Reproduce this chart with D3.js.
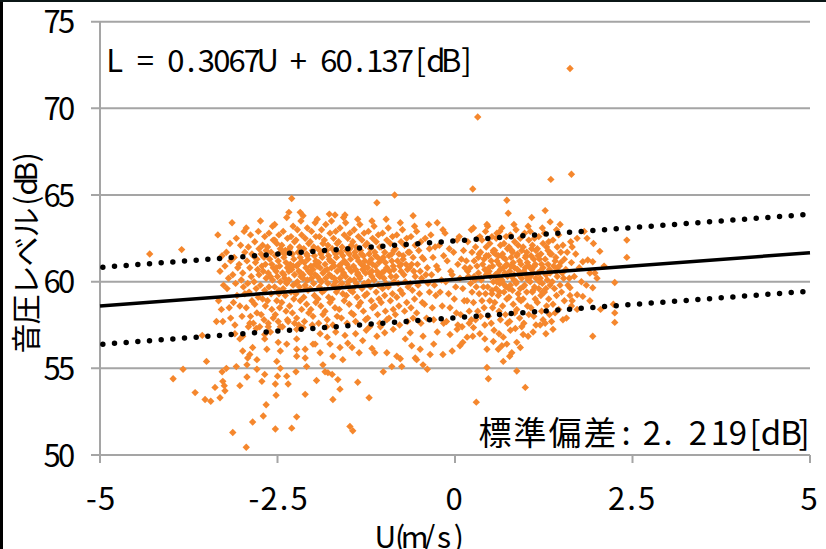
<!DOCTYPE html>
<html><head><meta charset="utf-8">
<script src="https://cdn.jsdelivr.net/npm/d3@7"></script>
<style>body{margin:0;background:#fff}svg{display:block}</style>
</head><body><svg id="c" width="826" height="549"></svg>
<script>
// ---- data ----
const xTicks = [-5, -2.5, 0, 2.5, 5];
const xTickLabels = ["-5", "-2.5", "0", "2.5", "5"];
const yTicks = [50, 55, 60, 65, 70, 75];
const yTickLabels = ["50", "55", "60", "65", "70", "75"];
const slope = 0.3067, intercept = 60.137, stdDev = 2.219;
const eqText = "L = 0.3067U + 60.137[dB]";
const sdText = "標準偏差:2.219[dB]";
const yTitle = "音圧レベル(dB)";
const xTitle = "U(m/s)";

const outliers = [[1.62,72.3],[0.32,69.5],[1.64,66.2],[1.35,65.9],[0.25,65.35],[-0.85,65.0],[-2.3,64.8],[-1.1,64.55],[0.73,64.7],[0.75,63.95],[1.27,64.1],[-4.3,61.6],[-3.85,61.85],[-2.18,64.0],[-1.69,63.85],[-1.55,63.85],[-0.59,63.8],[-0.25,63.4]];

const lowWest = [[-3.97,54.4],[-3.83,54.95],[-3.5,55.4],[-3.66,53.6],[-3.52,53.2],[-3.44,53.1],[-3.38,53.9],[-3.31,53.3],[-3.28,54.8],[-3.27,54.25],[-3.25,54.0],[-3.24,53.7],[-3.13,51.3],[-2.94,50.45],[-3.03,54.0],[-2.93,54.5],[-3.08,55.1],[-3.22,55.0],[-2.85,51.9],[-2.7,52.25],[-2.66,52.9],[-2.53,51.5],[-2.52,53.45],[-2.3,51.55],[-2.23,52.2],[-2.11,53.5],[-2.53,54.1],[-2.72,54.25],[-2.68,54.65],[-2.5,54.55],[-2.37,54.55],[-2.24,54.8],[-2.35,54.1],[-2.93,55.2],[-2.79,54.95],[-2.92,55.6],[-2.89,55.8],[-2.79,55.5],[-2.51,55.4],[-2.46,55.0],[-2.23,55.7],[-2.11,55.6],[-2.09,55.1],[-2.23,56.1],[-2.46,56.0],[-2.65,56.1],[-2.68,56.7],[-2.85,56.2],[-2.99,56.0],[-3.03,56.7],[-2.99,56.85],[-3.56,56.9],[-3.36,57.7],[-2.89,57.6],[-2.75,57.4],[-2.63,57.6],[-2.46,57.4],[-2.35,57.7],[-2.23,57.25],[-2.14,57.35],[-2.0,56.4],[-2.23,56.7],[-2.11,56.1],[-2.37,56.4],[-2.49,56.5],[-2.68,56.95],
[-1.86,55.2],[-1.83,54.8],[-1.79,54.75],[-1.73,54.65],[-1.72,55.7],[-1.65,54.35],[-1.62,53.8],[-1.72,53.2],[-1.37,54.2],[-1.21,53.3],[-1.48,51.65],[-1.44,51.4],[-1.01,54.8],[-0.89,55.1],[-0.75,55.1],[-0.39,54.95],[-0.45,55.2],[-0.54,55.5],[0.3,53.05],[-1.97,56.4],[-1.76,56.4],[-1.62,56.2],[-1.51,56.45],[-1.17,56.15],[-1.13,55.9],[-0.96,55.9],[-0.82,55.7],[-0.77,55.55],[-0.61,56.3],[-0.56,55.6],[-0.49,56.1],[-0.35,55.8],[-0.17,55.8],[-0.04,56.0],[0.07,56.3],[0.17,56.8],[0.26,57.35],[-1.1,56.85],[-0.99,57.05],[-0.87,57.25],[-0.63,57.05],[-0.45,56.85],[-0.25,57.1],[-0.07,56.95],[0.03,57.25],[0.11,56.5],
[-1.9,57.0],[-1.8,56.8],[-1.68,57.1],[-1.55,56.9],[-1.4,57.0],[-1.3,56.6],[-1.25,57.2],[-1.45,56.2],[-1.9,55.9],[-1.58,55.5],[-1.35,55.9],[-1.95,54.3],[-2.6,57.1],[-2.8,57.3],[-3.1,57.0],[-1.05,57.4],[-0.7,56.7],[-0.3,56.4]];

const lowEast = [[0.25,56.85],[0.42,56.7],[0.45,56.1],[0.54,56.55],[0.61,56.1],[0.68,56.8],[0.73,56.4],[0.66,56.3],[0.8,55.9],[0.77,55.7],[0.87,56.5],[0.92,56.2],[0.96,56.95],[1.03,56.85],[1.2,57.5],[1.38,57.25],[1.94,56.85],[2.25,57.65],[0.68,55.4],[0.45,55.05],[0.87,54.85],[0.47,54.4],[0.99,53.9],[0.35,57.0],[0.55,57.2],[0.85,57.3],[1.1,57.1],[0.2,57.6],[0.62,57.0],[0.78,57.2],[1.28,57.0]];

const eastRight = [[2.42,62.4],[2.42,61.4],[2.04,61.75],[1.86,62.5],[1.72,62.5],[1.87,61.25],[1.8,61.15],[1.94,61.15],[1.9,60.5],[1.97,60.5],[2.25,59.95],[1.62,59.65],[1.72,59.25],[1.8,59.15],[1.94,59.65],[2.25,58.2],[2.23,58.7],[1.48,63.3],[1.34,63.45],[1.08,63.7],[0.45,63.3],[0.35,62.6],[0.59,62.8],[1.65,62.0],[1.7,61.6],[1.75,60.8],[1.68,60.3],[1.78,60.0],[1.85,59.8],[1.65,58.9],[1.72,58.4],[1.9,58.9],[2.0,60.2],[1.82,62.9],[2.1,60.9],[1.95,62.2],[2.05,58.4]];

const westSparse = [[-3.34,62.7],[-3.28,61.5],[-3.31,60.6],[-3.26,59.8],[-3.33,58.9],[-3.29,58.4],[-3.27,57.7],
[-3.17,62.2],[-3.22,61.7],[-3.16,61.2],[-3.24,60.9],[-3.19,60.2],[-3.21,59.6],[-3.18,58.5],[-3.16,57.9],
[-3.14,63.4],[-3.08,62.5],[-3.11,61.4],[-3.06,60.8],[-3.13,60.4],[-3.09,59.9],[-3.07,59.2],[-3.12,58.8],[-3.10,57.5],
[-2.97,62.9],[-3.02,62.1],[-2.96,61.7],[-3.04,61.0],[-2.99,60.5],[-3.01,60.1],[-2.98,59.7],[-2.96,59.3],[-3.03,58.6],[-3.00,58.0],
[-2.94,63.1],[-2.88,62.7],[-2.91,62.0],[-2.86,61.6],[-2.93,61.2],[-2.89,60.8],[-2.87,60.3],[-2.92,59.9],[-2.90,59.4],[-2.86,58.9],[-2.94,58.5],[-2.88,58.0],[-2.91,57.4],
[-2.77,62.9],[-2.82,62.3],[-2.76,61.9],[-2.84,61.5],[-2.79,61.3],[-2.81,61.1],[-2.78,60.7],[-2.76,60.4],[-2.83,60.0],[-2.80,59.6],[-2.77,59.1],[-2.82,58.7],[-2.79,58.2],[-2.84,57.6],
[-2.74,63.5],[-2.68,62.6],[-2.71,62.1],[-2.66,61.8],[-2.73,61.6],[-2.69,61.4],[-2.67,61.0],[-2.72,60.9],[-2.70,60.6],[-2.66,60.2],[-2.74,59.8],[-2.68,59.5],[-2.71,59.0],[-2.67,58.6],[-2.73,58.1],[-2.69,57.8],
[-2.57,63.2],[-2.62,62.8],[-2.56,62.4],[-2.64,62.0],[-2.59,61.7],[-2.61,61.3],[-2.58,61.0],[-2.56,60.8],[-2.63,60.5],[-2.60,60.3],[-2.57,60.1],[-2.62,59.7],[-2.59,59.3],[-2.64,58.9],[-2.58,58.4],[-2.56,57.9],[-2.63,57.4]];

const westCore = [[-2.54,63.3],[-2.48,62.7],[-2.51,62.2],[-2.46,61.9],[-2.53,61.5],[-2.49,61.2],[-2.47,60.9],[-2.52,60.6],[-2.50,60.3],[-2.46,60.0],[-2.54,59.7],[-2.48,59.3],[-2.51,58.9],[-2.47,58.5],[-2.53,58.1],[-2.49,57.7],[-2.46,61.7],[-2.52,60.8],[-2.48,59.5],[-2.54,62.4],
[-2.37,63.7],[-2.42,62.9],[-2.36,62.5],[-2.44,62.1],[-2.39,61.8],[-2.41,61.4],[-2.38,61.1],[-2.36,60.8],[-2.43,60.5],[-2.40,60.2],[-2.37,59.9],[-2.42,59.6],[-2.39,59.2],[-2.44,58.8],[-2.38,58.3],[-2.36,57.8],[-2.43,57.4],[-2.40,61.6],[-2.41,60.4],[-2.37,60.0],
[-2.34,64.0],[-2.28,63.2],[-2.31,62.6],[-2.26,62.3],[-2.33,61.9],[-2.29,61.6],[-2.27,61.3],[-2.32,61.0],[-2.30,60.7],[-2.26,60.4],[-2.34,60.1],[-2.28,59.8],[-2.31,59.4],[-2.27,59.0],[-2.33,58.6],[-2.29,58.2],[-2.26,57.6],[-2.32,62.0],[-2.28,60.9],[-2.34,60.6],
[-2.17,63.5],[-2.22,63.0],[-2.16,62.7],[-2.24,62.4],[-2.19,62.0],[-2.21,61.7],[-2.18,61.4],[-2.16,61.2],[-2.23,60.9],[-2.20,60.6],[-2.17,60.3],[-2.22,60.0],[-2.19,59.7],[-2.24,59.3],[-2.18,58.9],[-2.16,58.4],[-2.23,57.9],[-2.20,57.5],[-2.21,61.0],[-2.17,60.5],[-2.24,59.9],
[-2.14,63.8],[-2.08,63.1],[-2.11,62.5],[-2.06,62.2],[-2.13,61.9],[-2.09,61.6],[-2.07,61.3],[-2.12,61.1],[-2.10,60.8],[-2.06,60.6],[-2.14,60.4],[-2.08,60.1],[-2.11,59.8],[-2.07,59.5],[-2.13,59.1],[-2.09,58.7],[-2.06,58.2],[-2.12,57.7],[-2.08,61.5],[-2.14,60.2],[-2.10,59.6],
[-1.97,63.4],[-2.02,62.9],[-1.96,62.6],[-2.04,62.3],[-1.99,62.0],[-2.01,61.8],[-1.98,61.5],[-1.96,61.2],[-2.03,60.9],[-2.00,60.7],[-1.97,60.4],[-2.02,60.2],[-1.99,59.9],[-2.04,59.6],[-1.98,59.2],[-1.96,58.8],[-2.03,58.4],[-2.00,58.0],[-2.01,57.5],[-1.97,61.0],[-2.04,60.5],
[-1.94,63.6],[-1.88,63.0],[-1.91,62.6],[-1.86,62.2],[-1.93,61.9],[-1.89,61.6],[-1.87,61.4],[-1.92,61.1],[-1.90,60.8],[-1.86,60.5],[-1.94,60.3],[-1.88,60.0],[-1.91,59.7],[-1.87,59.4],[-1.93,59.0],[-1.89,58.6],[-1.86,58.1],[-1.92,57.6],[-1.88,61.7],[-1.94,60.9],[-1.90,60.1],
[-1.77,63.9],[-1.82,63.3],[-1.76,62.8],[-1.84,62.4],[-1.79,62.1],[-1.81,61.8],[-1.78,61.5],[-1.76,61.2],[-1.83,61.0],[-1.80,60.7],[-1.77,60.4],[-1.82,60.2],[-1.79,59.9],[-1.84,59.5],[-1.78,59.1],[-1.76,58.8],[-1.83,58.3],[-1.80,57.8],[-1.81,57.4],[-1.77,61.3],[-1.84,60.6],
[-1.74,63.5],[-1.68,62.9],[-1.71,62.5],[-1.66,62.2],[-1.73,61.9],[-1.69,61.7],[-1.67,61.4],[-1.72,61.1],[-1.70,60.9],[-1.66,60.6],[-1.74,60.3],[-1.68,60.0],[-1.71,59.8],[-1.67,59.4],[-1.73,59.0],[-1.69,58.5],[-1.66,58.0],[-1.72,57.5],[-1.68,61.6],[-1.74,60.8],[-1.70,60.2],
[-1.57,63.7],[-1.62,63.1],[-1.56,62.7],[-1.64,62.3],[-1.59,62.0],[-1.61,61.7],[-1.58,61.5],[-1.56,61.2],[-1.63,60.9],[-1.60,60.7],[-1.57,60.5],[-1.62,60.2],[-1.59,59.9],[-1.64,59.6],[-1.58,59.3],[-1.56,58.9],[-1.63,58.4],[-1.60,57.9],[-1.61,61.0],[-1.57,60.4],[-1.64,59.7],
[-1.54,63.4],[-1.48,62.8],[-1.51,62.5],[-1.46,62.1],[-1.53,61.8],[-1.49,61.6],[-1.47,61.3],[-1.52,61.0],[-1.50,60.8],[-1.46,60.6],[-1.54,60.3],[-1.48,60.1],[-1.51,59.8],[-1.47,59.5],[-1.53,59.2],[-1.49,58.7],[-1.46,58.2],[-1.52,57.6],[-1.48,61.9],[-1.54,61.1],[-1.50,60.0],
[-1.37,63.6],[-1.42,63.0],[-1.36,62.6],[-1.44,62.3],[-1.39,62.0],[-1.41,61.7],[-1.38,61.4],[-1.36,61.2],[-1.43,60.9],[-1.40,60.7],[-1.37,60.4],[-1.42,60.1],[-1.39,59.9],[-1.44,59.6],[-1.38,59.1],[-1.36,58.6],[-1.43,58.1],[-1.40,57.7],[-1.41,61.5],[-1.37,60.5],[-1.44,59.4],
[-1.34,63.3],[-1.28,62.8],[-1.31,62.4],[-1.26,62.1],[-1.33,61.8],[-1.29,61.5],[-1.27,61.2],[-1.32,61.0],[-1.30,60.7],[-1.26,60.5],[-1.34,60.2],[-1.28,59.9],[-1.31,59.6],[-1.27,59.2],[-1.33,58.8],[-1.29,58.3],[-1.26,57.8],[-1.32,61.6],[-1.28,60.9],[-1.34,60.3],
[-1.17,63.5],[-1.22,62.9],[-1.16,62.5],[-1.24,62.2],[-1.19,61.9],[-1.21,61.6],[-1.18,61.3],[-1.16,61.0],[-1.23,60.8],[-1.20,60.5],[-1.17,60.3],[-1.22,60.0],[-1.19,59.7],[-1.24,59.3],[-1.18,58.9],[-1.16,58.5],[-1.23,57.9],[-1.20,57.4],[-1.21,61.1],[-1.17,60.6],
[-1.14,63.2],[-1.08,62.7],[-1.11,62.3],[-1.06,62.0],[-1.13,61.7],[-1.09,61.4],[-1.07,61.1],[-1.12,60.9],[-1.10,60.6],[-1.06,60.3],[-1.14,60.1],[-1.08,59.8],[-1.11,59.4],[-1.07,59.0],[-1.13,58.6],[-1.09,58.1],[-1.06,57.6],[-1.12,61.5],[-1.08,60.4],
[-0.97,63.6],[-1.02,62.8],[-0.96,62.4],[-1.04,62.0],[-0.99,61.7],[-1.01,61.4],[-0.98,61.1],[-0.96,60.8],[-1.03,60.5],[-1.00,60.2],[-0.97,59.9],[-1.02,59.6],[-0.99,59.2],[-1.04,58.8],[-0.98,58.3],[-0.96,57.8],[-1.03,61.3],[-1.00,60.6]];

const westEdge = [[-0.94,63.1],[-0.88,62.6],[-0.91,62.2],[-0.86,61.8],[-0.93,61.5],[-0.89,61.2],[-0.87,60.9],[-0.92,60.6],[-0.90,60.3],[-0.86,60.0],[-0.94,59.7],[-0.88,59.3],[-0.91,58.9],[-0.87,58.4],[-0.93,57.9],[-0.89,61.6],[-0.86,60.7],
[-0.77,63.4],[-0.82,62.7],[-0.76,62.3],[-0.84,61.9],[-0.79,61.6],[-0.81,61.2],[-0.78,60.9],[-0.76,60.6],[-0.83,60.3],[-0.80,59.9],[-0.77,59.5],[-0.82,59.1],[-0.79,58.6],[-0.84,58.1],[-0.78,57.5],[-0.76,61.0],
[-0.74,63.0],[-0.68,62.5],[-0.71,62.1],[-0.66,61.7],[-0.73,61.3],[-0.69,61.0],[-0.67,60.7],[-0.72,60.4],[-0.70,60.0],[-0.66,59.7],[-0.74,59.3],[-0.68,58.8],[-0.71,58.3],[-0.67,57.7],[-0.73,61.5],
[-0.57,63.2],[-0.62,62.6],[-0.56,62.1],[-0.64,61.7],[-0.59,61.4],[-0.61,61.0],[-0.58,60.6],[-0.56,60.3],[-0.63,59.9],[-0.60,59.5],[-0.57,59.0],[-0.62,58.5],[-0.59,57.9],[-0.64,60.8],
[-0.54,62.9],[-0.48,62.3],[-0.51,61.8],[-0.46,61.4],[-0.53,61.0],[-0.49,60.6],[-0.47,60.2],[-0.52,59.8],[-0.50,59.3],[-0.46,58.8],[-0.54,58.2],[-0.48,57.6],
[-0.37,63.3],[-0.42,62.5],[-0.36,61.9],[-0.44,61.3],[-0.39,60.8],[-0.41,60.4],[-0.38,59.9],[-0.36,59.4],[-0.43,58.7],[-0.40,57.9],
[-0.34,62.7],[-0.28,62.0],[-0.31,61.4],[-0.26,60.9],[-0.33,60.4],[-0.29,59.8],[-0.27,59.2],[-0.32,58.5],[-0.30,57.8],
[-0.17,63.0],[-0.22,62.1],[-0.16,61.5],[-0.24,60.7],[-0.19,60.1],[-0.21,59.4],[-0.18,58.6],[-0.16,57.6],
[-0.14,62.8],[-0.08,61.9],[-0.11,61.2],[-0.06,60.6],[-0.13,60.0],[-0.09,59.3],[-0.07,58.5],[-0.12,57.7],
[0.03,62.4],[-0.02,61.7],[0.04,61.0],[-0.04,60.4],[0.01,59.7],[-0.01,59.0],[0.02,58.2],[0.04,57.5],
[0.06,62.6],[0.12,61.8],[0.09,61.3],[0.14,60.8],[0.07,60.2],[0.11,59.6],[0.13,58.9],[0.08,58.1],[0.10,57.4]];

const eastCore = [[0.23,63.0],[0.18,62.3],[0.24,61.7],[0.16,61.2],[0.21,60.8],[0.19,60.3],[0.22,59.9],[0.24,59.4],[0.17,58.9],[0.20,58.3],[0.23,57.8],[0.18,60.6],
[0.26,63.1],[0.32,62.5],[0.29,62.0],[0.34,61.6],[0.27,61.2],[0.31,60.9],[0.33,60.5],[0.28,60.1],[0.30,59.7],[0.34,59.3],[0.26,58.8],[0.32,58.3],[0.29,57.8],[0.33,61.4],[0.27,60.3],
[0.43,62.9],[0.38,62.4],[0.44,62.0],[0.36,61.7],[0.41,61.3],[0.39,61.0],[0.42,60.7],[0.44,60.4],[0.37,60.1],[0.40,59.7],[0.43,59.3],[0.38,58.9],[0.41,58.5],[0.36,58.0],[0.42,57.5],[0.44,61.5],[0.37,60.2],
[0.46,63.2],[0.52,62.6],[0.49,62.2],[0.54,61.8],[0.47,61.5],[0.51,61.2],[0.53,60.9],[0.48,60.6],[0.50,60.3],[0.54,60.0],[0.46,59.7],[0.52,59.3],[0.49,58.9],[0.53,58.5],[0.47,58.0],[0.51,57.6],[0.54,61.7],[0.48,60.8],[0.52,59.5],
[0.63,62.9],[0.58,62.5],[0.64,62.1],[0.56,61.8],[0.61,61.5],[0.59,61.2],[0.62,61.0],[0.64,60.7],[0.57,60.4],[0.60,60.2],[0.63,59.9],[0.58,59.6],[0.61,59.2],[0.56,58.8],[0.62,58.3],[0.64,57.8],[0.57,61.6],[0.60,60.5],[0.59,60.0],[0.63,59.4],
[0.66,63.1],[0.72,62.6],[0.69,62.2],[0.74,61.9],[0.67,61.6],[0.71,61.3],[0.73,61.0],[0.68,60.8],[0.70,60.5],[0.74,60.3],[0.66,60.0],[0.72,59.7],[0.69,59.4],[0.73,59.0],[0.67,58.6],[0.71,58.1],[0.74,57.6],[0.68,61.4],[0.72,60.9],[0.66,60.1],[0.70,59.8],
[0.83,63.3],[0.78,62.7],[0.84,62.3],[0.76,62.0],[0.81,61.7],[0.79,61.4],[0.82,61.1],[0.84,60.8],[0.77,60.6],[0.80,60.3],[0.83,60.1],[0.78,59.8],[0.81,59.5],[0.76,59.1],[0.82,58.7],[0.84,58.2],[0.77,57.7],[0.80,61.8],[0.79,60.9],[0.83,60.4],[0.76,59.6],
[0.86,63.0],[0.92,62.5],[0.89,62.1],[0.94,61.8],[0.87,61.5],[0.91,61.2],[0.93,61.0],[0.88,60.7],[0.90,60.4],[0.94,60.2],[0.86,59.9],[0.92,59.6],[0.89,59.3],[0.93,58.9],[0.87,58.4],[0.91,57.9],[0.94,57.4],[0.88,61.6],[0.92,60.5],[0.86,60.0],[0.90,59.0],
[1.03,63.2],[0.98,62.8],[1.04,62.4],[0.96,62.0],[1.01,61.7],[0.99,61.4],[1.02,61.1],[1.04,60.9],[0.97,60.6],[1.00,60.4],[1.03,60.1],[0.98,59.8],[1.01,59.4],[0.96,59.0],[1.02,58.6],[1.04,58.1],[0.97,57.6],[1.00,61.5],[0.99,60.8],[1.03,60.2],[0.96,59.7],
[1.06,62.9],[1.12,62.5],[1.09,62.1],[1.14,61.8],[1.07,61.5],[1.11,61.3],[1.13,61.0],[1.08,60.7],[1.10,60.5],[1.14,60.2],[1.06,60.0],[1.12,59.7],[1.09,59.4],[1.13,59.0],[1.07,58.5],[1.11,58.0],[1.14,57.5],[1.08,61.9],[1.12,60.9],[1.06,60.3],[1.10,59.5],
[1.23,63.1],[1.18,62.6],[1.24,62.2],[1.16,61.9],[1.21,61.6],[1.19,61.3],[1.22,61.0],[1.24,60.8],[1.17,60.5],[1.20,60.2],[1.23,59.9],[1.18,59.6],[1.21,59.2],[1.16,58.8],[1.22,58.3],[1.24,57.8],[1.17,61.5],[1.20,60.6],[1.19,60.0],[1.23,59.4],
[1.26,62.8],[1.32,62.3],[1.29,62.0],[1.34,61.6],[1.27,61.3],[1.31,61.0],[1.33,60.7],[1.28,60.4],[1.30,60.1],[1.34,59.8],[1.26,59.4],[1.32,59.0],[1.29,58.6],[1.33,58.1],[1.27,57.6],[1.31,61.8],[1.34,60.5],[1.28,59.6],
[1.43,63.0],[1.38,62.4],[1.44,62.0],[1.36,61.6],[1.41,61.2],[1.39,60.9],[1.42,60.6],[1.44,60.3],[1.37,60.0],[1.40,59.6],[1.43,59.2],[1.38,58.7],[1.41,58.2],[1.36,57.7],[1.42,61.4],[1.44,60.8],
[1.46,62.7],[1.52,62.1],[1.49,61.7],[1.54,61.3],[1.47,60.9],[1.51,60.5],[1.53,60.2],[1.48,59.8],[1.50,59.4],[1.54,58.9],[1.46,58.4],[1.52,57.8],[1.49,61.1],
[1.63,62.3],[1.58,61.7],[1.64,61.1],[1.56,60.7],[1.61,60.2],[1.59,59.8],[1.62,59.2],[1.64,58.6],[1.57,57.9]];

// ---- drawing ----
const svg = d3.select("#c");
const x = d3.scaleLinear().domain([-5, 5]).range([100, 810]);
const y = d3.scaleLinear().domain([50, 75]).range([455, 21.7]);
const FONT = "'Noto Sans CJK JP','Noto Sans',sans-serif";
const GRID = "#a5a5a5";

svg.append("rect").attr("width", 826).attr("height", 549).attr("fill", "#fff");

// horizontal gridlines (with outside tick stubs)
svg.append("g").selectAll("line").data(yTicks).join("line")
  .attr("x1", 91).attr("x2", x(5)).attr("y1", d => y(d)).attr("y2", d => y(d))
  .attr("stroke", GRID).attr("stroke-width", 2);
// y axis line
svg.append("line").attr("x1", x(-5)).attr("x2", x(-5)).attr("y1", y(75)).attr("y2", y(50))
  .attr("stroke", GRID).attr("stroke-width", 2);
// x tick marks
svg.append("g").selectAll("line").data(xTicks).join("line")
  .attr("x1", d => x(d)).attr("x2", d => x(d)).attr("y1", y(50)).attr("y2", y(50) + 8)
  .attr("stroke", GRID).attr("stroke-width", 2);

// scatter points
const allPts = [].concat(westSparse, westCore, westEdge, eastCore, eastRight, lowWest, lowEast, outliers);
const diamond = "M0,-3.7L3.7,0L0,3.7L-3.7,0Z";
svg.append("g").selectAll("path").data(allPts).join("path")
  .attr("d", diamond)
  .attr("transform", d => `translate(${x(d[0])},${y(d[1])})`)
  .attr("fill", "#f5872d");

// regression line and ±sd dotted lines
const line = d3.line().x(d => x(d[0])).y(d => y(d[1]));
const reg = u => slope * u + intercept;
svg.append("path").attr("d", line([[-5, reg(-5)], [5, reg(5)]]))
  .attr("stroke", "#000").attr("stroke-width", 3.5).attr("fill", "none");
[stdDev, -stdDev].forEach(off => {
  svg.append("path").attr("d", line([[-4.96, reg(-4.96) + off], [4.93, reg(4.93) + off]]))
    .attr("stroke", "#000").attr("stroke-width", 5.5).attr("fill", "none")
    .attr("stroke-linecap", "round").attr("stroke-dasharray", "0 11.7");
});

// monospace-like text helper: per-character centers
function isWide(ch) { return /[\u3000-\u9fff\uff00-\uffef]/.test(ch); }
function monoText(str, x0, baseline, cell, size, transform) {
  const chars = Array.from(str);
  let pos = 0; const centers = [];
  chars.forEach(ch => { const w = isWide(ch) ? 2 : 1; centers.push(x0 + (pos + w / 2) * cell); pos += w; });
  const t = svg.append("text").attr("font-family", FONT).attr("font-size", size)
    .attr("fill", "#000").attr("text-anchor", "middle");
  if (transform) t.attr("transform", transform);
  t.attr("x", centers.join(" ")).attr("y", baseline).text(str);
  return pos * cell;
}
function cells(str) { return Array.from(str).reduce((s, ch) => s + (isWide(ch) ? 2 : 1), 0); }

// y tick labels (right aligned)
yTicks.forEach((v, i) => {
  const s = yTickLabels[i];
  monoText(s, 74 - cells(s) * 14.6, y(v) + 11.5, 14.6, 31);
});
// x tick labels (centered)
xTicks.forEach((v, i) => {
  const s = xTickLabels[i];
  monoText(s, x(v) - cells(s) * 15 / 2 - 1, 510, 15, 31);
});
// equation
monoText(eqText, 107, 72, 15.3, 31);
// x title
monoText(xTitle, 422 - cells(xTitle) * 14.7 / 2, 548, 14.7, 30);
// y title (rotated)
monoText(yTitle, 0, 0, 14.5, 30, "translate(37,353) rotate(-90)");

// standard deviation label with measured character centers
const sdCenters = [495, 530, 565, 600, 626, 652, 668, 698, 720, 738, 755, 771, 791, 804];
svg.append("text").attr("font-family", FONT).attr("font-size", 33).attr("fill", "#000")
  .attr("text-anchor", "middle").attr("x", sdCenters.join(" ")).attr("y", 445).text(sdText);

// outer frame edges
svg.append("rect").attr("x", 0).attr("y", 0).attr("width", 3).attr("height", 549).attr("fill", "#000");
svg.append("rect").attr("x", 0).attr("y", 0).attr("width", 826).attr("height", 2).attr("fill", "#0b1616");
</script></body></html>
